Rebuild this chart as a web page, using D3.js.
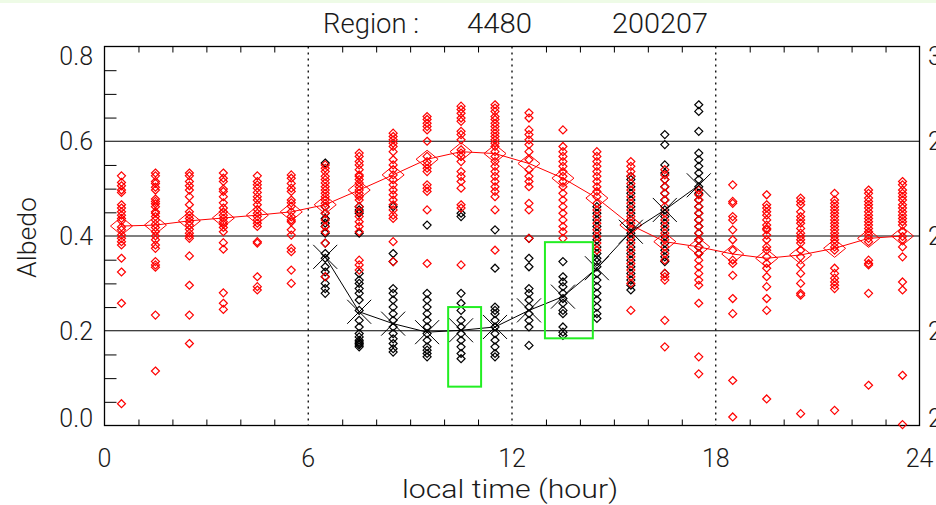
<!DOCTYPE html>
<html>
<head>
<meta charset="utf-8">
<script src="https://cdn.jsdelivr.net/npm/d3@7"></script>
<style>
  body { margin: 0; background: #fff; }
  svg { display: block; }
  text { font-family: "Roboto", "DejaVu Sans", sans-serif; font-weight: 300; fill: #1a1a1a; }
</style>
</head>
<body>
<svg id="chart" width="936" height="505"></svg>
<script>
// ---- data ----
const titleParts = ["Region :", "4480", "200207"];
const hours = d3.range(24).map(h => h + 0.5);          // hourly bin centres
const redMean = [0.421, 0.423, 0.432, 0.438, 0.444, 0.451, 0.466, 0.497, 0.529, 0.562, 0.578, 0.574,
                 0.553, 0.522, 0.480, 0.423, 0.388, 0.377, 0.362, 0.353, 0.360, 0.374, 0.395, 0.400];
const blackHours = hours.slice(6, 18);
const blackMean = [0.356, 0.240, 0.215, 0.197, 0.201, 0.208, 0.243, 0.272, 0.332, 0.409, 0.455, 0.507];

const redPoints = [
  [0.527,0.513,0.506,0.497,0.492,0.466,0.459,0.451,0.444,0.437,0.432,0.419,0.413,0.402,0.395,0.388,0.381,0.353,0.324,0.258,0.046],
  [0.533,0.527,0.515,0.511,0.503,0.497,0.478,0.473,0.468,0.462,0.451,0.448,0.441,0.434,0.425,0.418,0.409,0.400,0.392,0.381,0.374,0.346,0.339,0.334,0.233,0.115],
  [0.533,0.527,0.515,0.506,0.497,0.483,0.466,0.451,0.444,0.437,0.430,0.423,0.414,0.406,0.400,0.395,0.358,0.296,0.233,0.173],
  [0.533,0.522,0.515,0.499,0.494,0.483,0.470,0.459,0.451,0.444,0.437,0.430,0.425,0.418,0.409,0.386,0.372,0.280,0.258,0.245],
  [0.527,0.515,0.508,0.501,0.492,0.483,0.476,0.466,0.456,0.448,0.441,0.434,0.427,0.420,0.388,0.385,0.314,0.293,0.286],
  [0.529,0.522,0.511,0.501,0.494,0.476,0.470,0.463,0.451,0.441,0.434,0.430,0.413,0.402,0.374,0.367,0.328,0.300],
  [0.550,0.543,0.536,0.526,0.519,0.512,0.504,0.497,0.490,0.483,0.476,0.469,0.462,0.448,0.434,0.420,0.409,0.385,0.314],
  [0.575,0.568,0.557,0.550,0.540,0.529,0.526,0.519,0.512,0.504,0.497,0.490,0.483,0.476,0.462,0.451,0.441,0.430,0.420,0.409,0.349,0.339,0.328],
  [0.617,0.610,0.603,0.596,0.589,0.578,0.561,0.550,0.540,0.529,0.519,0.508,0.497,0.487,0.476,0.466,0.455,0.444,0.437,0.388,0.346],
  [0.652,0.646,0.638,0.631,0.624,0.600,0.568,0.557,0.550,0.543,0.536,0.508,0.501,0.494,0.455,0.342],
  [0.674,0.667,0.659,0.649,0.642,0.621,0.614,0.603,0.582,0.575,0.568,0.557,0.536,0.526,0.515,0.501,0.466,0.459,0.339],
  [0.677,0.670,0.663,0.652,0.646,0.638,0.631,0.624,0.617,0.610,0.603,0.596,0.589,0.578,0.568,0.557,0.547,0.536,0.526,0.515,0.504,0.494,0.483,0.455,0.370],
  [0.660,0.649,0.624,0.614,0.603,0.593,0.578,0.561,0.540,0.526,0.515,0.504,0.469,0.455,0.395],
  [0.624,0.589,0.578,0.568,0.557,0.547,0.536,0.526,0.515,0.504,0.490,0.476,0.462,0.448,0.434,0.420,0.409,0.395],
  [0.578,0.568,0.557,0.547,0.536,0.526,0.515,0.504,0.494,0.483,0.469,0.455,0.441,0.427,0.413,0.399,0.385,0.370],
  [0.557,0.547,0.536,0.526,0.511,0.497,0.483,0.469,0.455,0.441,0.427,0.413,0.399,0.385,0.370,0.356,0.342,0.328,0.314,0.300,0.243],
  [0.540,0.529,0.519,0.504,0.490,0.476,0.462,0.448,0.434,0.420,0.406,0.392,0.377,0.363,0.349,0.321,0.314,0.307,0.222,0.166],
  [0.497,0.487,0.476,0.462,0.448,0.434,0.420,0.406,0.392,0.377,0.363,0.349,0.335,0.321,0.307,0.296,0.258,0.145,0.109],
  [0.508,0.473,0.469,0.441,0.434,0.413,0.392,0.370,0.349,0.342,0.317,0.268,0.236,0.095,0.018],
  [0.487,0.466,0.459,0.451,0.444,0.434,0.423,0.416,0.413,0.402,0.392,0.377,0.370,0.356,0.342,0.332,0.314,0.293,0.268,0.243,0.056],
  [0.480,0.473,0.466,0.451,0.441,0.434,0.427,0.416,0.406,0.399,0.392,0.385,0.370,0.356,0.339,0.321,0.300,0.279,0.275,0.025],
  [0.490,0.476,0.469,0.462,0.455,0.448,0.441,0.434,0.427,0.420,0.413,0.406,0.399,0.392,0.385,0.377,0.370,0.332,0.321,0.311,0.303,0.296,0.289,0.032],
  [0.497,0.490,0.480,0.473,0.466,0.459,0.451,0.444,0.437,0.430,0.423,0.416,0.409,0.402,0.395,0.388,0.349,0.342,0.339,0.279,0.085],
  [0.515,0.508,0.497,0.490,0.483,0.476,0.466,0.459,0.451,0.444,0.437,0.430,0.423,0.409,0.399,0.392,0.377,0.356,0.303,0.286,0.106,0.002]
];

const blackPoints = [
  [0.554,0.462,0.448,0.437,0.427,0.420,0.406,0.385,0.363,0.353,0.335,0.324,0.314,0.300,0.289,0.279],
  [0.462,0.455,0.448,0.406,0.321,0.307,0.300,0.289,0.279,0.265,0.243,0.222,0.208,0.194,0.187,0.180,0.176,0.173,0.170,0.166],
  [0.462,0.363,0.346,0.289,0.279,0.265,0.250,0.236,0.222,0.208,0.194,0.183,0.173,0.162,0.155],
  [0.423,0.279,0.265,0.250,0.236,0.222,0.208,0.194,0.180,0.166,0.159,0.152,0.145],
  [0.448,0.441,0.279,0.258,0.243,0.222,0.208,0.194,0.180,0.166,0.152,0.141],
  [0.413,0.332,0.250,0.243,0.236,0.222,0.208,0.194,0.180,0.166,0.152,0.145],
  [0.395,0.353,0.335,0.289,0.279,0.265,0.250,0.236,0.222,0.208,0.169],
  [0.346,0.314,0.303,0.293,0.279,0.268,0.258,0.243,0.236,0.208,0.197,0.190],
  [0.462,0.448,0.434,0.420,0.406,0.392,0.377,0.363,0.353,0.346,0.335,0.321,0.307,0.293,0.279,0.265,0.250,0.236,0.226],
  [0.526,0.519,0.504,0.490,0.476,0.462,0.448,0.434,0.420,0.406,0.392,0.377,0.363,0.349,0.335,0.321,0.307,0.296,0.286],
  [0.614,0.593,0.550,0.533,0.519,0.504,0.490,0.476,0.455,0.441,0.427,0.413,0.399,0.385,0.370,0.356,0.346,0.321],
  [0.677,0.663,0.621,0.575,0.561,0.547,0.533,0.519,0.504,0.490,0.476,0.462,0.448,0.434,0.420,0.406,0.392,0.377,0.363]
];

const xTickLabels = [0, 6, 12, 18, 24];
const yTickLabels = [0.0, 0.2, 0.4, 0.6, 0.8];
const rightTickLabels = ["220", "240", "260", "280", "300"];
// highlighted hour/albedo windows
const highlightBoxes = [
  { h0: 10.12, h1: 11.09, a0: 0.082, a1: 0.250 },
  { h0: 12.97, h1: 14.38, a0: 0.184, a1: 0.387 }
];

// ---- layout ----
const svg = d3.select("#chart");
const x = d3.scaleLinear().domain([0, 24]).range([104.5, 919.5]);
const y = d3.scaleLinear().domain([0, 0.8]).range([425.5, 46.5]);

// page backdrop with the pale strip along the top edge
svg.append("rect").attr("width", 936).attr("height", 505).attr("fill", "#fff");
svg.append("rect").attr("width", 936).attr("height", 3).attr("fill", "#eefbe6");

// title
const title = svg.append("text").attr("y", 33).attr("font-size", 27);
title.append("tspan").attr("x", 323).attr("textLength", 96).attr("lengthAdjust", "spacingAndGlyphs").text(titleParts[0]);
title.append("tspan").attr("x", 467).attr("textLength", 65).attr("lengthAdjust", "spacingAndGlyphs").text(titleParts[1]);
title.append("tspan").attr("x", 612).attr("textLength", 96).attr("lengthAdjust", "spacingAndGlyphs").text(titleParts[2]);

// horizontal reference lines
svg.append("g").selectAll("line").data([0.2, 0.4, 0.6]).join("line")
  .attr("x1", x(0)).attr("x2", x(24))
  .attr("y1", d => y(d)).attr("y2", d => y(d))
  .attr("stroke", "#000").attr("stroke-width", 1.2);

// dotted verticals at 6, 12, 18 h
svg.append("g").selectAll("line").data([6, 12, 18]).join("line")
  .attr("x1", d => x(d)).attr("x2", d => x(d))
  .attr("y1", y(0.8)).attr("y2", y(0))
  .attr("stroke", "#000").attr("stroke-width", 1.3).attr("stroke-dasharray", "2,4");

// hourly ticks, bottom and top
const hourTicks = d3.range(1, 24).filter(h => h % 6 !== 0);
svg.append("g").attr("transform", `translate(0,${y(0)})`)
  .call(d3.axisBottom(x).tickValues(hourTicks).tickSize(-6).tickSizeOuter(0).tickFormat(""))
  .call(g => g.select(".domain").remove());
svg.append("g").attr("transform", `translate(0,${y(0.8)})`)
  .call(d3.axisTop(x).tickValues(hourTicks).tickSize(-6).tickSizeOuter(0).tickFormat(""))
  .call(g => g.select(".domain").remove());

// minor albedo ticks every 0.05 on the left
const minorY = d3.range(1, 16).map(i => i * 0.05).filter((v, i) => (i + 1) % 4 !== 0);
svg.append("g").attr("transform", `translate(${x(0)},0)`)
  .call(d3.axisLeft(y).tickValues(minorY).tickSize(-12).tickSizeOuter(0).tickFormat(""))
  .call(g => g.select(".domain").remove());

// frame
svg.append("rect")
  .attr("x", x(0)).attr("y", y(0.8))
  .attr("width", x(24) - x(0)).attr("height", y(0) - y(0.8))
  .attr("fill", "none").attr("stroke", "#000").attr("stroke-width", 1.3);

// axis labels
const edgeShift = v => (v === 0.8 ? 9 : v === 0 ? -8 : 0);
svg.append("g").selectAll("text").data(yTickLabels).join("text")
  .attr("x", 93).attr("y", d => y(d) + edgeShift(d) + 9)
  .attr("text-anchor", "end").attr("font-size", 25)
  .text(d => d.toFixed(1));
svg.append("g").selectAll("text").data(rightTickLabels).join("text")
  .attr("x", 928).attr("y", (d, i) => y(yTickLabels[i]) + edgeShift(yTickLabels[i]) + 9)
  .attr("font-size", 25)
  .text(d => d);
svg.append("g").selectAll("text").data(xTickLabels).join("text")
  .attr("x", d => x(d)).attr("y", 467)
  .attr("text-anchor", "middle").attr("font-size", 25)
  .text(d => d);
svg.append("text").attr("x", 402).attr("y", 498)
  .attr("font-size", 26).attr("textLength", 216).attr("lengthAdjust", "spacingAndGlyphs")
  .text("local time (hour)");
svg.append("text").attr("transform", "translate(36,278) rotate(-90)")
  .attr("font-size", 26).attr("textLength", 81).attr("lengthAdjust", "spacingAndGlyphs")
  .text("Albedo");

// ---- marks ----
const diamond = (cx, cy, rx, ry) => `M${cx},${cy - ry}L${cx + rx},${cy}L${cx},${cy + ry}L${cx - rx},${cy}Z`;
const plot = svg.append("g");

// individual black samples (daytime)
plot.append("g").selectAll("path")
  .data(blackPoints.flatMap((col, i) => col.map(v => [blackHours[i], v])))
  .join("path")
  .attr("d", d => diamond(x(d[0]), y(d[1]), 4, 4))
  .attr("fill", "none").attr("stroke", "#000").attr("stroke-width", 1.2);

// individual red samples
plot.append("g").selectAll("path")
  .data(redPoints.flatMap((col, i) => col.map(v => [hours[i], v])))
  .join("path")
  .attr("d", d => diamond(x(d[0]), y(d[1]), 4, 4))
  .attr("fill", "none").attr("stroke", "#ff0000").attr("stroke-width", 1.2);

// red hourly means
plot.append("path")
  .datum(hours.map((h, i) => [h, redMean[i]]))
  .attr("d", d3.line().x(d => x(d[0])).y(d => y(d[1])))
  .attr("fill", "none").attr("stroke", "#ff0000").attr("stroke-width", 1);
plot.append("g").selectAll("path")
  .data(hours.map((h, i) => [h, redMean[i]]))
  .join("path")
  .attr("d", d => diamond(x(d[0]), y(d[1]), 11, 9))
  .attr("fill", "none").attr("stroke", "#ff0000").attr("stroke-width", 1);

// black hourly means
plot.append("path")
  .datum(blackHours.map((h, i) => [h, blackMean[i]]))
  .attr("d", d3.line().x(d => x(d[0])).y(d => y(d[1])))
  .attr("fill", "none").attr("stroke", "#000").attr("stroke-width", 1);
plot.append("g").selectAll("path")
  .data(blackHours.map((h, i) => [h, blackMean[i]]))
  .join("path")
  .attr("d", d => {
    const cx = x(d[0]), cy = y(d[1]), r = 12;
    return `M${cx - r},${cy - r}L${cx + r},${cy + r}M${cx - r},${cy + r}L${cx + r},${cy - r}`;
  })
  .attr("fill", "none").attr("stroke", "#000").attr("stroke-width", 1);

// highlighted windows
plot.append("g").selectAll("rect").data(highlightBoxes).join("rect")
  .attr("x", d => x(d.h0)).attr("y", d => y(d.a1))
  .attr("width", d => x(d.h1) - x(d.h0)).attr("height", d => y(d.a0) - y(d.a1))
  .attr("fill", "none").attr("stroke", "#22ee22").attr("stroke-width", 2);
</script>
</body>
</html>
